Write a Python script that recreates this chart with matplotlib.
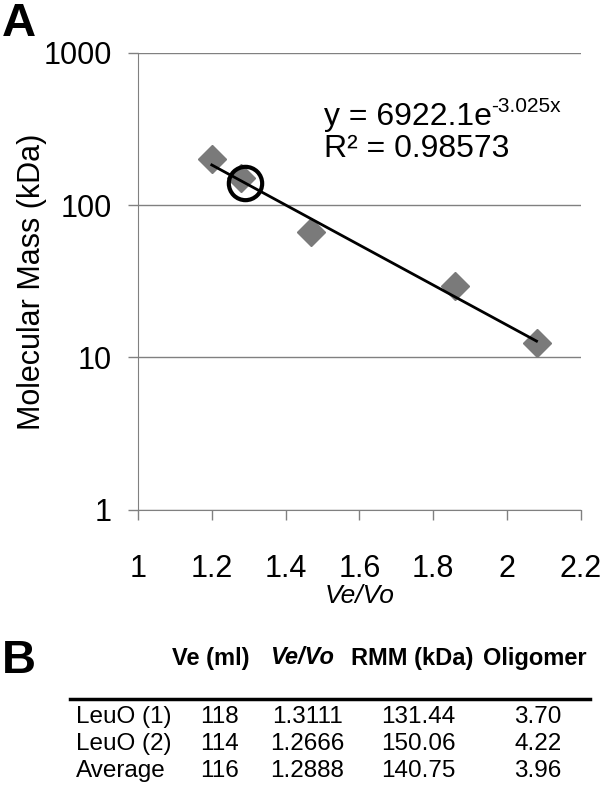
import numpy as np
import matplotlib.pyplot as plt
from matplotlib.ticker import FixedLocator, NullLocator

plt.rcParams['font.family'] = ['Liberation Sans', 'DejaVu Sans']

# standards (Ve/Vo vs molecular mass)
ve_vo = [1.2, 1.28, 1.47, 1.86, 2.08]
mass = [200, 150, 67, 29.5, 12.5]
# LeuO average
leuo_x = 1.2888
leuo_y = 140.75
# fit y = a*exp(b*x)
fit_a = 6922.1
fit_b = -3.025

# table B
col_heads = ['Ve (ml)', 'Ve/Vo', 'RMM (kDa)', 'Oligomer']
row_names = ['LeuO (1)', 'LeuO (2)', 'Average']
ve_ml = ['118', '114', '116']
ratio = ['1.3111', '1.2666', '1.2888']
rmm = ['131.44', '150.06', '140.75']
oligomer = ['3.70', '4.22', '3.96']

fig = plt.figure(figsize=(6, 7.88), dpi=100)
ax = fig.add_axes([0.23, 0.353, 0.738, 0.58])

ax.set_yscale('log')
ax.set_xlim(1, 2.2)
ax.set_ylim(1, 1000)

gray = '#808080'
ax.yaxis.set_major_locator(FixedLocator([1, 10, 100, 1000]))
ax.yaxis.set_minor_locator(NullLocator())
ax.set_yticklabels(['1', '10', '100', '1000'])
ax.set_xticks([1, 1.2, 1.4, 1.6, 1.8, 2, 2.2])
ax.set_xticklabels(['1', '1.2', '1.4', '1.6', '1.8', '2', '2.2'])
ax.grid(axis='y', color=gray, lw=1)
ax.set_axisbelow(True)
for s in ['top', 'right']:
    ax.spines[s].set_visible(False)
for s in ['left', 'bottom']:
    ax.spines[s].set_color(gray)
ax.tick_params(axis='both', colors=gray, labelcolor='black', labelsize=22,
               length=7, width=1)
ax.tick_params(axis='x', pad=25)
ax.tick_params(axis='y', pad=12)

# trend line
xf = np.linspace(min(ve_vo), max(ve_vo), 50)
ax.plot(xf, fit_a * np.exp(fit_b * xf), color='black', lw=2, zorder=4)
ax.plot(ve_vo, mass, 'D', color='#7a7a7a', markersize=14, zorder=3)
ax.plot([leuo_x], [leuo_y], 'o', mfc='none', mec='black', mew=3,
        markersize=24, zorder=5)

ax.text(1.505, 337, 'y = 6922.1e', fontsize=23, va='baseline')
ax.text(1.958, 337, '-3.025x', fontsize=15, va='baseline',
        transform=ax.transData + plt.matplotlib.transforms.ScaledTranslation(
            0, 9 / 72, fig.dpi_scale_trans))
ax.text(1.505, 208, 'R² = 0.98573', fontsize=23, va='baseline')

ax.set_ylabel('Molecular Mass (kDa)', fontsize=22)
ax.yaxis.set_label_coords(-0.205, 0.5)
ax.set_xlabel('Ve/Vo', fontsize=19, style='italic', labelpad=0)

fig.text(0.003, 0.998, 'A', fontsize=34, fontweight='bold', va='top')
fig.text(0.003, 1 - 661 / 788, 'B', fontsize=34, fontweight='bold',
         va='center')

# table
W, H = 600, 788
col_x = [211, 302, 412, 535]
val_x = [219, 307, 418, 538]
hy = 1 - 658 / H
for cx, h in zip(col_x, col_heads):
    fig.text(cx / W, hy, h, fontsize=17, fontweight='bold', ha='center',
             va='center', style='italic' if h == 'Ve/Vo' else 'normal')
fig.add_artist(plt.Line2D([70 / W, 590 / W], [1 - 699 / H, 1 - 699 / H],
                          color='black', lw=2.5))
row_y = [717, 744, 771]
for i, name in enumerate(row_names):
    y = 1 - row_y[i] / H
    fig.text(76 / W, y, name, fontsize=17.5, va='center')
    for cx, col in zip(val_x, [ve_ml, ratio, rmm, oligomer]):
        fig.text(cx / W, y, col[i], fontsize=17.5, ha='center', va='center')

fig.savefig('out.png', dpi=100)
